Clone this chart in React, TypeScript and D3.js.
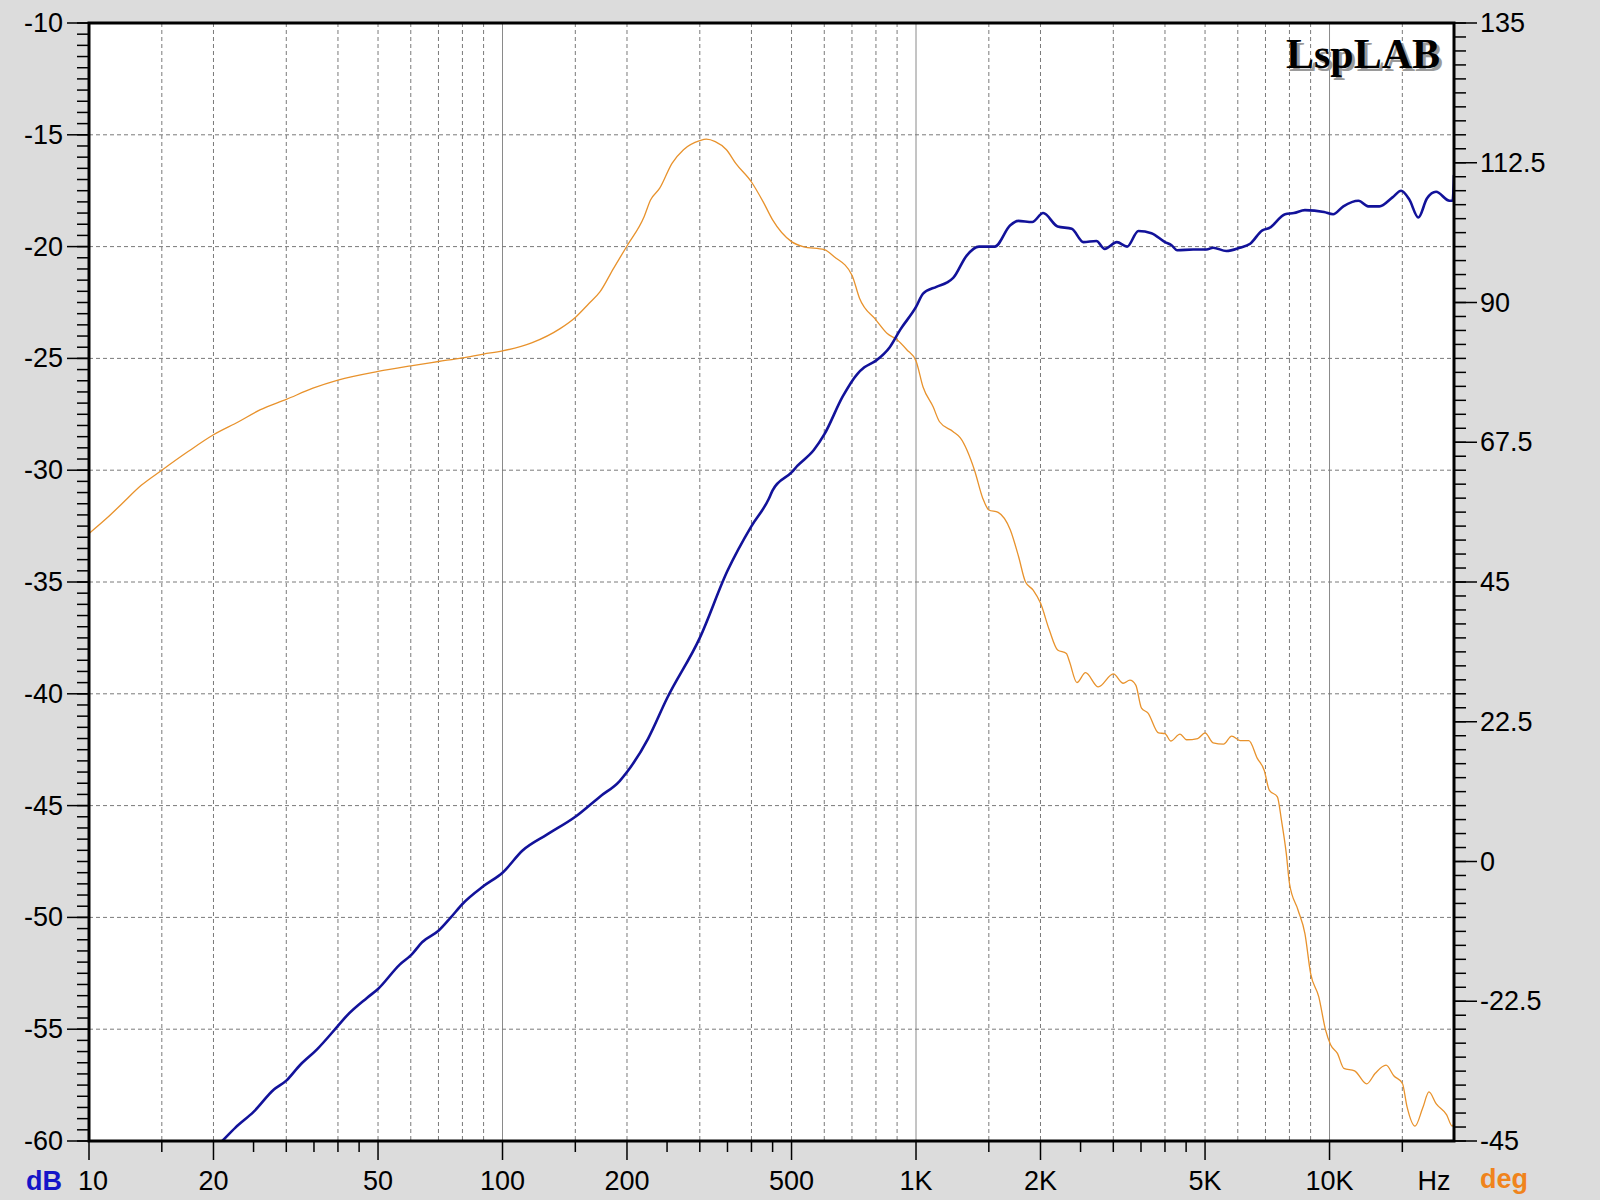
import * as d3 from 'd3';

// magnitude (blue, left axis, dB)
const magFreq = [
  20, 21, 22.6, 25, 28, 30, 32.4, 35.6, 40, 42, 47, 50, 56.5, 60, 64, 70, 75, 80, 90, 100,
  112, 128, 150, 172, 192, 200, 225, 250, 300, 350, 400, 440, 450, 500, 517, 566, 600, 665,
  721, 750, 800, 864, 917, 1000, 1040, 1120, 1190, 1230, 1326, 1420, 1550, 1690, 1765, 1910,
  2030, 2200, 2380, 2540, 2730, 2860, 3060, 3240, 3450, 3710, 4000, 4150, 4280, 4680, 5040,
  5230, 5630, 6070, 6430, 6880, 7150, 7810, 8200, 8720, 9700, 10200, 10800, 11750, 12400,
  13200, 14200, 14900, 15600, 16400, 17200, 18100, 19500, 19850, 20000,
];
const magDb = [
  -60.4, -60.0, -59.4, -58.7, -57.7, -57.3, -56.6, -55.9, -54.85, -54.4, -53.6, -53.2, -52.1,
  -51.7, -51.1, -50.6, -50.0, -49.4, -48.6, -48.0, -47.0, -46.3, -45.5, -44.6, -43.9, -43.5,
  -42.0, -40.2, -37.5, -34.5, -32.5, -31.3, -30.9, -30.1, -29.8, -29.1, -28.4, -26.7, -25.7,
  -25.4, -25.1, -24.5, -23.7, -22.7, -22.1, -21.8, -21.6, -21.4, -20.4, -20.0, -20.0, -19.05,
  -18.85, -18.9, -18.5, -19.1, -19.2, -19.8, -19.75, -20.1, -19.8, -20.0, -19.3, -19.4, -19.8,
  -19.94, -20.16, -20.13, -20.13, -20.05, -20.2, -20.05, -19.87, -19.27, -19.17, -18.55, -18.5,
  -18.37, -18.45, -18.55, -18.2, -17.95, -18.2, -18.2, -17.8, -17.5, -17.9, -18.7, -17.85,
  -17.55, -17.95, -17.95, -16.8,
];

// phase (orange, right axis, deg)
const phaseFreq = [
  10, 11.03, 11.93, 13.4, 15, 17.36, 20, 23, 25.9, 30, 34.8, 40, 50, 60, 70, 80, 90, 100, 117.6,
  137.8, 150, 161.6, 172, 185.6, 200, 220, 228, 240, 257, 274, 300, 311, 327, 348, 366.5, 400,
  427, 450, 500, 533, 600, 633, 700, 730, 800, 852, 900, 950, 1000, 1040, 1100, 1140, 1230, 1280,
  1385, 1450, 1500, 1580, 1690, 1770, 1840, 1920, 2000, 2100, 2200, 2310, 2350, 2450, 2570, 2760,
  3000, 3170, 3290, 3400, 3510, 3640, 3860, 4000, 4130, 4350, 4510, 4800, 5000, 5230, 5540, 5800,
  6080, 6380, 6690, 6950, 7150, 7480, 7650, 7860, 8000, 8390, 8720, 9000, 9420, 9780, 10060,
  10450, 10830, 11500, 12300, 12900, 13700, 14300, 15000, 15400, 16100, 16800, 17400, 18100,
  19200, 19800, 20000,
];
const phaseDeg = [
  52.8, 55.25, 57.4, 60.6, 63.0, 66.0, 68.7, 70.8, 72.7, 74.4, 76.2, 77.5, 78.9, 79.8, 80.5, 81.1,
  81.7, 82.2, 83.5, 85.8, 87.6, 89.8, 91.7, 95.5, 99.1, 103.8, 106.5, 108.4, 112.4, 114.6, 116.05,
  116.3, 115.9, 114.6, 112.4, 109.4, 106.2, 103.3, 99.8, 99.0, 98.5, 97.4, 94.4, 90.7, 87.2, 85.0,
  84.0, 82.4, 80.6, 76.4, 73.2, 70.8, 69.2, 68.2, 63.0, 58.5, 56.6, 56.2, 53.4, 49.1, 45.0, 43.7,
  41.6, 37.3, 34.05, 33.5, 32.2, 28.8, 30.4, 28.1, 30.2, 28.7, 29.2, 28.4, 24.7, 23.9, 20.7, 20.6,
  19.4, 20.5, 19.6, 19.8, 20.7, 19.1, 18.9, 20.2, 19.45, 19.45, 16.6, 14.7, 11.5, 10.4, 6.7, 1.3,
  -3.5, -7.8, -11.6, -18.0, -21.8, -27.1, -29.5, -30.9, -33.3, -33.7, -35.8, -34.1, -32.8, -34.5,
  -35.7, -39.5, -42.6, -39.7, -37.1, -39.0, -40.8, -42.6, -42.2,
];

const dbTicks = [-10, -15, -20, -25, -30, -35, -40, -45, -50, -55, -60];
const degTicks = [135, 112.5, 90, 67.5, 45, 22.5, 0, -22.5, -45];
const freqLabelValues = [10, 20, 50, 100, 200, 500, 1000, 2000, 5000, 10000];
const freqLabelText = ['10', '20', '50', '100', '200', '500', '1K', '2K', '5K', '10K'];

const W = 1600;
const H = 1200;
const M = { left: 89, right: 1454, top: 23, bottom: 1141 };
const FONT = '"Liberation Sans", Arial, sans-serif';
const BLUE = '#12129a';
const ORANGE = '#e8922c';
const F_MAX = 20000;

export default function App() {
  const x = d3.scaleLog().domain([10, F_MAX]).range([M.left, M.right]);
  const yDb = d3.scaleLinear().domain([-60, -10]).range([M.bottom, M.top]);
  const yDeg = d3.scaleLinear().domain([-45, 135]).range([M.bottom, M.top]);

  const decades = [10, 100, 1000, 10000];
  // dashed grid inside each decade, solid at decade starts
  const dashedGrid = decades
    .flatMap((d) => [1.5, 2, 3, 4, 5, 6, 7, 8, 9].map((m) => d * m))
    .filter((f) => f < F_MAX);
  const solidGrid = [100, 1000, 10000];
  const minorX = decades
    .flatMap((d) => [1.5, 2.5, 3, 3.5, 4, 4.5].map((m) => d * m))
    .filter((f) => f < F_MAX);

  const magLine = d3
    .line<number>()
    .x((_, i) => x(magFreq[i]))
    .y((d) => yDb(d))
    .curve(d3.curveMonotoneX);
  const phaseLine = d3
    .line<number>()
    .x((_, i) => x(phaseFreq[i]))
    .y((d) => yDeg(d))
    .curve(d3.curveMonotoneX);

  const leftMinor = d3.range(-60, -9.99, 0.5);
  const rightMinor = d3.range(-45, 135.01, 2.25);

  return (
    <svg
      width={W}
      height={H}
      style={{ position: 'absolute', left: 0, top: 0, display: 'block' }}
      fontFamily={FONT}
    >
      <defs>
        <clipPath id="plot-clip">
          <rect x={M.left} y={M.top} width={M.right - M.left} height={M.bottom - M.top} />
        </clipPath>
      </defs>
      <rect width={W} height={H} fill="#dcdcdc" />
      <rect x={M.left} y={M.top} width={M.right - M.left} height={M.bottom - M.top} fill="#fff" />

      {/* grid */}
      <g stroke="#7a7a7a" strokeWidth={1}>
        {dashedGrid.map((f) => (
          <line key={`gx${f}`} x1={x(f)} x2={x(f)} y1={M.top} y2={M.bottom} strokeDasharray="4,3" />
        ))}
        {solidGrid.map((f) => (
          <line key={`sx${f}`} x1={x(f)} x2={x(f)} y1={M.top} y2={M.bottom} stroke="#8a8a8a" />
        ))}
        {dbTicks.slice(1, -1).map((v) => (
          <line key={`gy${v}`} x1={M.left} x2={M.right} y1={yDb(v)} y2={yDb(v)} strokeDasharray="4,3" />
        ))}
      </g>

      {/* curves */}
      <g clipPath="url(#plot-clip)" fill="none">
        <path d={phaseLine(phaseDeg) ?? ''} stroke={ORANGE} strokeWidth={1.3} />
        <path d={magLine(magDb) ?? ''} stroke={BLUE} strokeWidth={2.6} strokeLinejoin="round" />
      </g>

      {/* watermark */}
      <text
        x={1443}
        y={71}
        textAnchor="end"
        fontFamily='"Liberation Serif", "Times New Roman", serif'
        fontWeight="bold"
        fontSize={42}
        fill="#9a9a9a"
      >
        LspLAB
      </text>
      <text
        x={1440}
        y={68}
        textAnchor="end"
        fontFamily='"Liberation Serif", "Times New Roman", serif'
        fontWeight="bold"
        fontSize={42}
        fill="#000"
      >
        LspLAB
      </text>

      {/* frame */}
      <rect
        x={M.left}
        y={M.top}
        width={M.right - M.left}
        height={M.bottom - M.top}
        fill="none"
        stroke="#000"
        strokeWidth={3}
      />

      {/* axis ticks */}
      <g stroke="#000" strokeWidth={1.5}>
        {leftMinor.map((v) => (
          <line key={`lm${v}`} x1={M.left - 12} x2={M.left} y1={yDb(v)} y2={yDb(v)} />
        ))}
        {dbTicks.map((v) => (
          <line key={`lM${v}`} x1={M.left - 22} x2={M.left} y1={yDb(v)} y2={yDb(v)} />
        ))}
        {rightMinor.map((v) => (
          <line key={`rm${v}`} x1={M.right} x2={M.right + 12} y1={yDeg(v)} y2={yDeg(v)} />
        ))}
        {degTicks.map((v) => (
          <line key={`rM${v}`} x1={M.right} x2={M.right + 23} y1={yDeg(v)} y2={yDeg(v)} />
        ))}
        {minorX.map((f) => (
          <line key={`bm${f}`} x1={x(f)} x2={x(f)} y1={M.bottom} y2={M.bottom + 11} />
        ))}
        {freqLabelValues.map((f) => (
          <line key={`bM${f}`} x1={x(f)} x2={x(f)} y1={M.bottom} y2={M.bottom + 19} />
        ))}
      </g>

      <g fontSize={27} fill="#000">
        {dbTicks.map((v) => (
          <text key={`lt${v}`} x={63} y={yDb(v)} textAnchor="end" dominantBaseline="central">
            {v}
          </text>
        ))}
        {degTicks.map((v) => (
          <text key={`rt${v}`} x={1480} y={yDeg(v)} textAnchor="start" dominantBaseline="central">
            {v}
          </text>
        ))}
        {freqLabelValues.map((f, i) => (
          <text key={`bt${f}`} x={x(f) + (i === 0 ? 4 : 0)} y={1190} textAnchor="middle">
            {freqLabelText[i]}
          </text>
        ))}
        <text x={1434} y={1190} textAnchor="middle">
          Hz
        </text>
      </g>
      <text x={26} y={1190} fontSize={27} fontWeight="bold" fill="#1515c8">
        dB
      </text>
      <text x={1480} y={1188} fontSize={27} fontWeight="bold" fill="#f0841c">
        deg
      </text>
    </svg>
  );
}
